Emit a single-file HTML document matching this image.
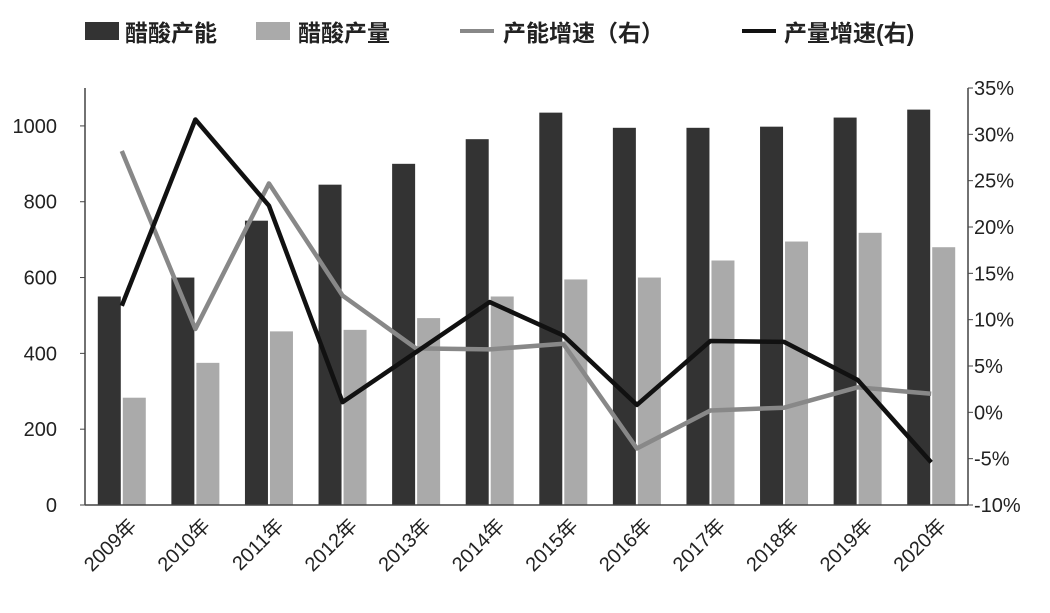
<!DOCTYPE html>
<html><head><meta charset="utf-8"><style>
body{margin:0;background:#fff;}
svg text{font-family:"Liberation Sans","Noto Sans CJK SC",sans-serif;fill:#222;}
</style></head><body>
<svg id="chart" width="1050" height="608" viewBox="0 0 1050 608" xmlns="http://www.w3.org/2000/svg">
<g id="legend">
<rect x="85" y="22" width="34" height="18" fill="#333"/>
<text x="125" y="41" font-size="23" font-weight="bold">醋酸产能</text>
<rect x="256" y="22" width="34" height="18" fill="#aaa"/>
<text x="298" y="41" font-size="23" font-weight="bold">醋酸产量</text>
<line x1="460" y1="31" x2="494" y2="31" stroke="#888" stroke-width="4"/>
<text x="503" y="41" font-size="23" font-weight="bold">产能增速（右）</text>
<line x1="742" y1="31" x2="776" y2="31" stroke="#111" stroke-width="4"/>
<text x="784" y="41" font-size="23" font-weight="bold">产量增速(右)</text>
</g>
<g id="plot"></g>
</svg>
<script>
const categories=["2009年","2010年","2011年","2012年","2013年","2014年","2015年","2016年","2017年","2018年","2019年","2020年"];
const capacity=[550,600,750,845,900,965,1035,995,995,998,1022,1043];
const output=[283,375,458,462,493,550,595,600,645,695,718,680];
const capacityGrowth=[28.2,9,24.7,12.6,6.9,6.8,7.4,-3.9,0.2,0.5,2.7,2];
const outputGrowth=[11.5,31.6,22.3,1.1,6.5,11.9,8.3,0.8,7.7,7.6,3.5,-5.4];
const leftTicks=[0,200,400,600,800,1000];
const rightTicks=[-10,-5,0,5,10,15,20,25,30,35];

const NS="http://www.w3.org/2000/svg";
const X0=85,X1=968,Y0=505,YT=88;
const yL=v=>Y0-v*(Y0-YT)/1100;
const yR=v=>Y0-(v+10)*(Y0-YT)/45;
const step=(X1-X0)/categories.length;
const xC=i=>X0+step*(i+0.5);
const g=document.getElementById('plot');
function mk(tag,attrs){const e=document.createElementNS(NS,tag);for(const k in attrs)e.setAttribute(k,attrs[k]);g.appendChild(e);return e;}

categories.forEach((c,i)=>{
  const b1=mk('rect',{x:xC(i)-24,y:yL(capacity[i]),width:23,height:Y0-yL(capacity[i]),fill:'#333'});
  
  
  const b2=mk('rect',{x:xC(i)+1,y:yL(output[i]),width:23,height:Y0-yL(output[i]),fill:'#aaa'});
  
  
  const t=mk('text',{x:xC(i)+16,y:Y0+22,'font-size':20,'text-anchor':'end',transform:`rotate(-45 ${xC(i)+16} ${Y0+22})`});
  t.textContent=c;
  
  
});
const ax=mk('line',{x1:X0,y1:YT,x2:X0,y2:Y0,stroke:'#444','stroke-width':1.5});


const ax2=mk('line',{x1:X1,y1:YT,x2:X1,y2:Y0,stroke:'#444','stroke-width':1.5});


const ax3=mk('line',{x1:X0,y1:Y0,x2:X1,y2:Y0,stroke:'#444','stroke-width':1.5});


leftTicks.forEach(v=>{
  const t=mk('text',{x:X0-28,y:yL(v)+7,'font-size':20,'text-anchor':'end'});
  t.textContent=v;
  
  
  mk('line',{x1:X0-5,y1:yL(v),x2:X0,y2:yL(v),stroke:'#444'});
});
rightTicks.forEach(v=>{
  const t=mk('text',{x:X1+6,y:yR(v)+7,'font-size':20});
  t.textContent=v+'%';
  
  
  mk('line',{x1:X1,y1:yR(v),x2:X1+5,y2:yR(v),stroke:'#444'});
});
function line(arr,color,name){
  const p=mk('polyline',{points:arr.map((v,i)=>xC(i)+','+yR(v)).join(' '),fill:'none',stroke:color,'stroke-width':4.5,'stroke-linejoin':'round'});
  
  
}
line(capacityGrowth,'#888','capacity-growth-line');
line(outputGrowth,'#111','output-growth-line');
</script>
</body></html>
